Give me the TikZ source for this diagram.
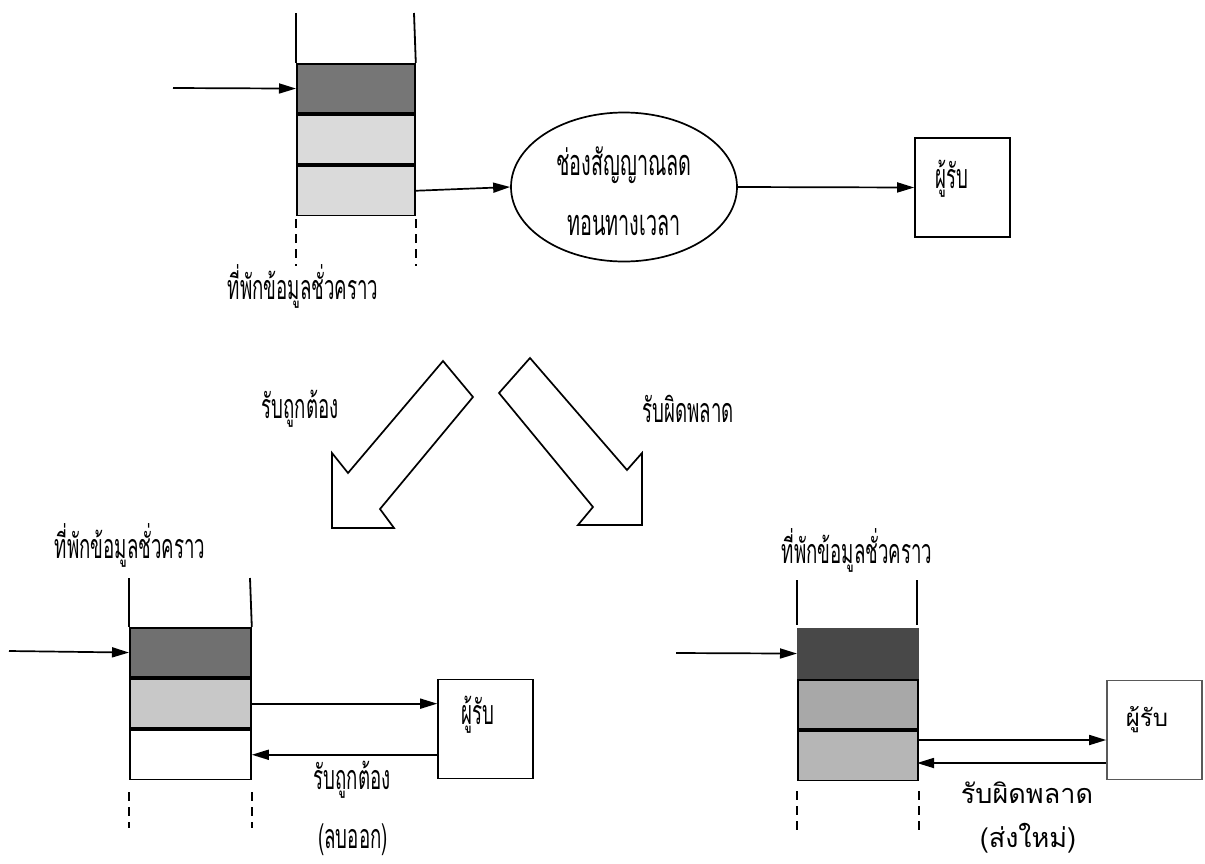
\documentclass[tikz,border=0pt]{standalone}
\usepackage{fontspec}
\newfontfamily\thai[Script=Thai,FakeStretch=0.55]{Loma}
\newfontfamily\thaiwide[Script=Thai]{Loma}
\usetikzlibrary{arrows.meta,shapes.geometric}
\definecolor{dkA}{RGB}{118,118,118}
\definecolor{ltA}{RGB}{218,218,218}
\definecolor{dkB}{RGB}{112,112,112}
\definecolor{ltB}{RGB}{200,200,200}
\definecolor{dkC}{RGB}{72,72,72}
\definecolor{mdC}{RGB}{168,168,168}
\definecolor{ltC}{RGB}{182,182,182}
\begin{document}
\begin{tikzpicture}[x=1pt,y=-1pt,
  every node/.style={font=\thai\fontsize{34}{38}\selectfont},
  widetxt/.style={font=\thaiwide\fontsize{27}{31}\selectfont},
  arr/.style={line width=1.7pt,-{Triangle[length=17pt,width=10pt]}},
  wall/.style={line width=1.8pt},
  dashln/.style={line width=1.8pt,dash pattern=on 9pt off 6pt},
  cellbox/.style={draw,line width=1.8pt,inner sep=0pt,anchor=north west,
    minimum height=49.3pt},
  rxbox/.style={draw,line width=1.6pt,inner sep=0pt,minimum width=95pt,minimum height=99pt},
  txt/.style={inner sep=0pt},
  hollow/.style={draw,line width=1.7pt,fill=white,line join=miter}]
\useasboundingbox (0,0) rectangle (1205,863);

% ---------- top: buffer -> channel -> receiver ----------
\node[cellbox,minimum width=118pt,fill=dkA] (a1) at (296,63) {};
\node[cellbox,minimum width=118pt,fill=ltA] (a2) at (a1.south west) {};
\node[cellbox,minimum width=118pt,fill=ltA] (a3) at (a2.south west) {};
\coordinate (aTL) at (296,13);
\coordinate (aTR) at (414,13);
\draw[wall] (aTL) -- (a1.north west);
\draw[wall] (aTR) -- (a1.north east);
\draw[dashln] ([yshift=-3pt]a3.south west) -- ++(0,47);
\draw[dashln] ([yshift=-3pt]a3.south east) -- ++(0,47);
\coordinate (aIn) at (173,88);
\draw[arr] (aIn) -- (a1.west);
\node[txt] (aLbl) at (303,286) {ที่พักข้อมูลชั่วคราว};

\node[draw,ellipse,line width=1.7pt,minimum width=226pt,minimum height=149pt,inner sep=0pt] (ch) at (624,187) {};
\node[txt,font=\thai\fontsize{36}{40}\selectfont] (chT1) at (624,165) {ช่องสัญญาณลด};
\node[txt,font=\thai\fontsize{36}{40}\selectfont] (chT2) at (624,225) {ทอนทางเวลา};
\draw[arr] (a3.east) -- (ch.west);

\node[rxbox] (rxA) at (962.5,187.5) {};
\node[txt] (rxAT) at (952,179) {ผู้รับ};
\draw[arr] (ch.east) -- (rxA.west);

% ---------- outcome arrows ----------
\draw[hollow] (443,361) -- (473,397) -- (380,509) -- (394,528) -- (332,528)
  -- (332,453) -- (348,473) -- cycle;
\draw[hollow] (530,358) -- (627,470) -- (642,453) -- (642,525) -- (578,525)
  -- (593,507) -- (499,393) -- cycle;
\node[txt] (okLbl) at (300,409) {รับถูกต้อง};
\node[txt] (errLbl) at (688,409) {รับผิดพลาด};

% ---------- bottom left: correct reception, slot cleared ----------
\node[cellbox,minimum width=121pt,fill=dkB] (b1) at (129,627) {};
\node[cellbox,minimum width=121pt,fill=ltB] (b2) at (b1.south west) {};
\node[cellbox,minimum width=121pt] (b3) at (b2.south west) {};
\coordinate (bTL) at (129,578);
\coordinate (bTR) at (250,578);
\draw[wall] (bTL) -- (b1.north west);
\draw[wall] (bTR) -- (b1.north east);
\draw[dashln] ([yshift=-12pt]b3.south west) -- ++(0,36);
\draw[dashln] ([yshift=-12pt]b3.south east) -- ++(0,36);
\coordinate (bIn) at (9,651);
\draw[arr] (bIn) -- (b1.west);
\node[txt] (bLbl) at (130,545) {ที่พักข้อมูลชั่วคราว};

\node[rxbox] (rxB) at (485.5,729) {};
\node[txt] (rxBT) at (478,715) {ผู้รับ};
\draw[arr] (b2.east) -- (b2.east -| rxB.west);
\draw[arr] (b3.east -| rxB.west) -- (b3.east);
\node[txt] (bAck) at (352,780) {รับถูกต้อง};
\node[txt] (bNote) at (353,840) {(ลบออก)};

% ---------- bottom right: erroneous reception, resend ----------
\node[cellbox,minimum width=120pt,fill=dkC,draw=dkC] (c1) at (797,628) {};
\node[cellbox,minimum width=120pt,fill=mdC] (c2) at (c1.south west) {};
\node[cellbox,minimum width=120pt,fill=ltC] (c3) at (c2.south west) {};
\coordinate (cTL) at (797,580);
\coordinate (cTR) at (917,580);
\coordinate (cBL) at (797,625);
\coordinate (cBR) at (917,625);
\draw[wall] (cTL) -- (cBL);
\draw[wall] (cTR) -- (cBR);
\draw[dashln] ([yshift=-10pt]c3.south west) -- ++(0,40);
\draw[dashln] ([yshift=-10pt]c3.south east) -- ++(0,40);
\coordinate (cIn) at (676,653);
\draw[arr] (cIn) -- (c1.west);
\node[txt] (cLbl) at (857,550) {ที่พักข้อมูลชั่วคราว};

\node[rxbox,draw=black!65] (rxC) at (1154.5,730) {};
\node[txt,font=\thaiwide\fontsize{24}{28}\selectfont] (rxCT) at (1147,720) {ผู้รับ};
\coordinate (cOut) at (917,740);
\coordinate (cBack) at (917,763);
\draw[arr] (cOut) -- (cOut -| rxC.west);
\draw[arr] (cBack -| rxC.west) -- (cBack);
\node[txt,widetxt] (cNak) at (1027,793) {รับผิดพลาด};
\node[txt,widetxt] (cNote) at (1028,838) {(ส่งใหม่)};
\end{tikzpicture}
\end{document}
